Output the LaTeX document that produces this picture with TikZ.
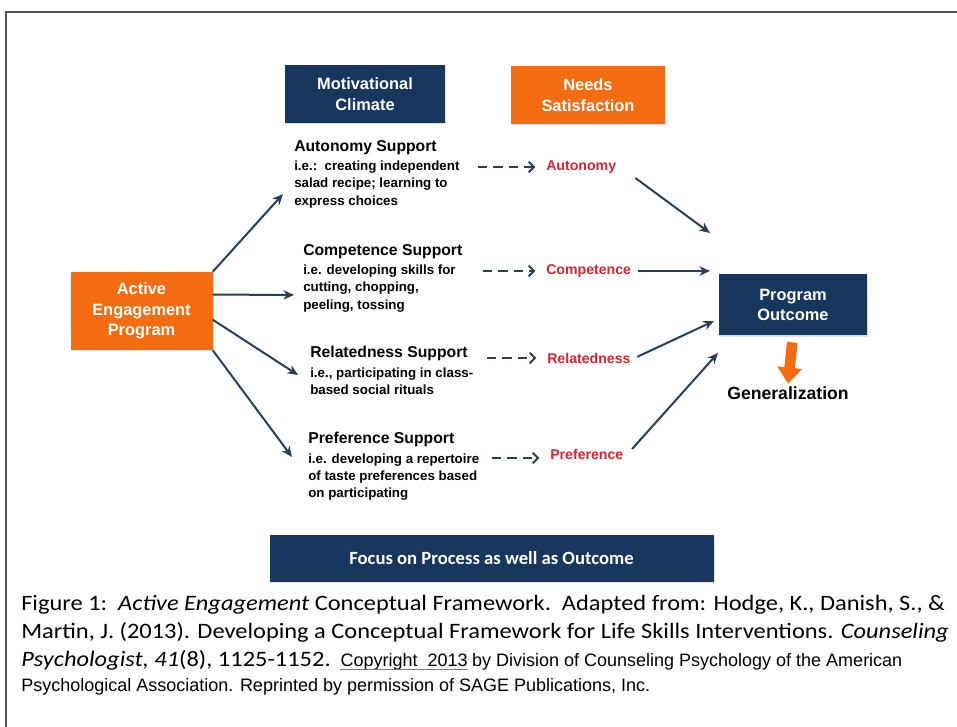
\documentclass[tikz,border=0pt]{standalone}
\usepackage{fontspec}
\setmainfont{Liberation Sans}
\newfontfamily\calibri{Carlito}
\newfontfamily\calibriwide[FakeStretch=1.11]{Carlito}
\usetikzlibrary{arrows.meta}
\usetikzlibrary{positioning}
\usetikzlibrary{shadows}
\definecolor{navy}{RGB}{23,55,94}
\definecolor{orng}{RGB}{244,108,18}
\definecolor{redtxt}{RGB}{222,32,48}
\definecolor{slate}{RGB}{40,62,92}
\definecolor{frame}{RGB}{80,80,80}
\definecolor{spell}{RGB}{90,120,230}

\begin{document}
\begin{tikzpicture}[x=0.75pt, y=-0.75pt,
  box/.style={fill=#1, text=white, align=center, inner sep=0pt,
    drop shadow={opacity=0.25, shadow xshift=1pt, shadow yshift=-1pt},
    font=\bfseries\fontsize{12.3}{15.5}\selectfont},
  support/.style={anchor=north west, align=left, inner sep=0pt,
    font=\bfseries\fontsize{10}{13}\selectfont},
  need/.style={anchor=west, inner sep=3pt, text=redtxt,
    font=\bfseries\fontsize{10.6}{12}\selectfont},
  caption/.style={anchor=base west, inner sep=0pt,
    font=\calibriwide\fontsize{16.5}{19}\selectfont},
  credit/.style={anchor=base west, inner sep=0pt,
    font=\fontsize{13.5}{15}\selectfont},
  link/.style={->, line width=1.5pt, draw=slate},
  dashlink/.style={-{Straight Barb[length=4pt, width=8pt]}, line width=1.5pt,
    draw=slate, dash pattern=on 7pt off 4.5pt},
]
\tikzset{>={Stealth[length=8pt, width=7pt]}}
\useasboundingbox (0,0) rectangle (957,727);
\draw[frame, line width=1.5pt] (957,12) -- (6,12) -- (6,727);

% heading boxes
\node[box=navy, minimum width=120pt, minimum height=43.5pt] (MC) at (365,94) {Motivational\\Climate};
\node[box=orng, minimum width=115.5pt, minimum height=43.5pt] (NS) at (588,95) {Needs\\Satisfaction};
\node[box=orng, minimum width=106.5pt, minimum height=58.5pt] (AEP) at (141.5,311) {Active\\Engagement\\Program};
\node[box=navy, minimum width=111pt, minimum height=45.75pt] (PO) at (793,305) {Program\\Outcome};
\node[box=navy, minimum width=333pt, minimum height=35pt,
  font=\calibri\bfseries\fontsize{14}{16}\selectfont] (FOC) at (491.5,558.5) {Focus on Process as well as Outcome};

% supports
\newcommand{\stitle}[1]{{\fontsize{11.8}{13}\selectfont #1}\\[1.5pt]}
\node[support] (AS) at (294,140) {\stitle{Autonomy Support}i.e.:\ \ creating independent\\salad recipe; learning to\\express choices};
\node[support] (CS) at (303,244) {\stitle{Competence Support}i.e. developing skills for\\cutting, chopping,\\peeling, tossing};
\node[support] (RS) at (310,346) {\stitle{Relatedness Support}i.e., participating in class-\\based social rituals};
\node[support] (PS) at (308,432) {\stitle{Preference Support}i.e. developing a repertoire\\of taste preferences based\\on participating};

% needs
\node[need] (AN) at (542,167) {Autonomy};
\node[need] (CN) at (542,271) {Competence};
\node[need] (RN) at (543,358) {Relatedness};
\node[need] (PN) at (546,454) {Preference};

\node[font=\bfseries\fontsize{13.2}{15}\selectfont, inner sep=2pt] (GEN) at (788,393) {Generalization};

% arrow ends
\coordinate (a1) at (283,194);
\coordinate (a2) at (294,295);
\coordinate (a3) at (298,375);
\coordinate (a4) at (292,457);
\coordinate (d1) at (478,167);
\coordinate (d2) at (483,271);
\coordinate (d3) at (487,358);
\coordinate (d4) at (492,458);
\coordinate (o1) at (710,233);
\coordinate (o2) at (710,271);
\coordinate (o3) at (714,321);
\coordinate (o4) at (718,353);

\draw[link] (AEP.north east) -- (a1);
\draw[link] (AEP.13) -- (a2);
\draw[link] (AEP.-7) -- (a3);
\draw[link] (AEP.south east) -- (a4);

\draw[dashlink, shorten >=5pt] (d1) -- (AN.west |- d1);
\draw[dashlink, shorten >=5pt] (d2) -- (CN.west |- d2);
\draw[dashlink, shorten >=5pt] (d3) -- (RN.west |- d3);
\draw[dashlink, shorten >=5pt] (d4) -- (PN.west |- d4);

\draw[link, shorten <=14pt] (AN.east) -- (o1);
\draw[link, shorten <=2pt] (CN.east) -- (o2);
\draw[link, shorten <=2pt] (RN.east) -- (o3);
\draw[link, shorten <=5pt] (PN.east) -- (o4);

\draw[draw=orng, line width=8pt, -{Triangle[length=12pt, width=18pt]},
  shorten <=5pt] (PO.south) -- (GEN.north);

% caption
\node[caption] (L1) at (21,610) {Figure 1:\ \ \textit{Active Engagement} Conceptual Framework.\ \ Adapted from: Hodge, K., Danish, S., \&};
\node[caption] (L2) at (21,638) {Martin, J. (2013). Developing a Conceptual Framework for Life Skills Interventions. \textit{Counseling}};
\node[caption] (L3) at (21,666) {\textit{Psychologist, 41}(8), 1125-1152.};
\node[credit, right=7pt of L3.base east, anchor=base west] (CPY) {Copyright\ \ 2013};
\node[credit, right=3pt of CPY.base east, anchor=base west] (L3b) {by Division of Counseling Psychology of the American};
\draw[draw=spell, line width=1pt] ([yshift=-2.5pt]CPY.base west) -- ([yshift=-2.5pt]CPY.base east);
\node[credit] (L4) at (21,691) {Psychological Association. Reprinted by permission of SAGE Publications, Inc.};
\end{tikzpicture}
\end{document}
